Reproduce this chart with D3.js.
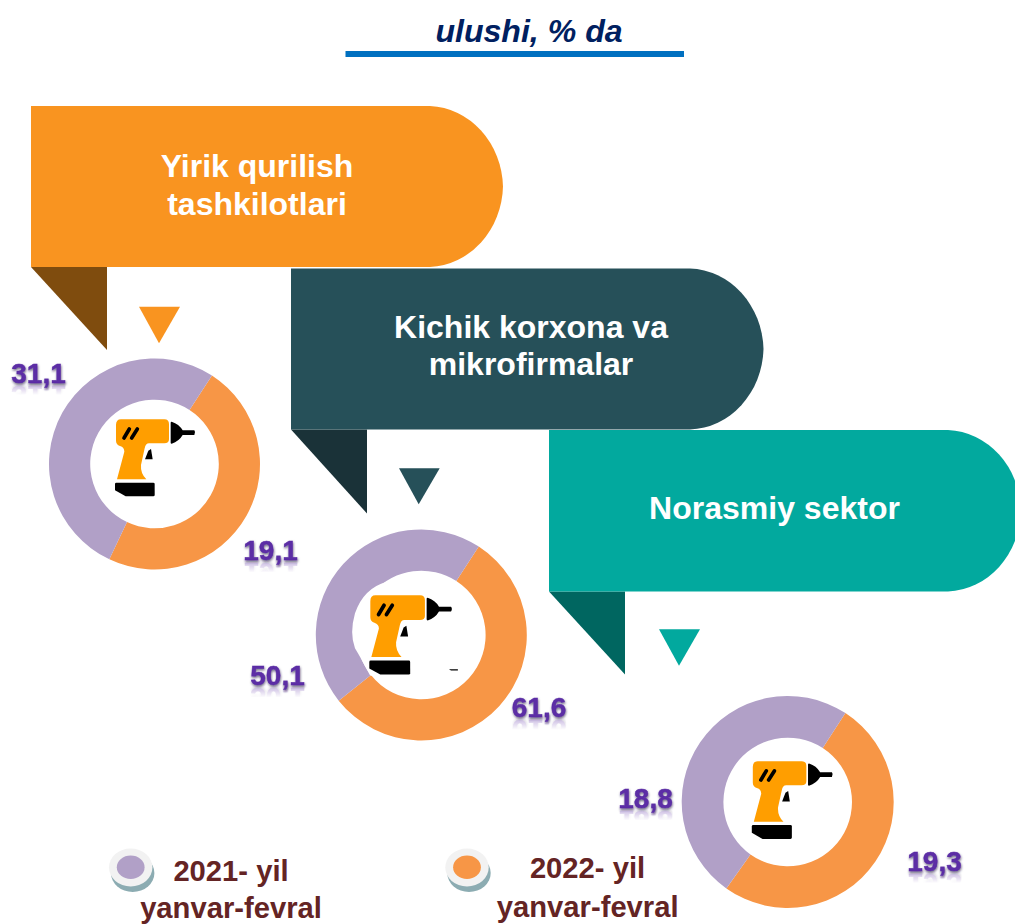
<!DOCTYPE html>
<html>
<head>
<meta charset="utf-8">
<script src="https://cdn.jsdelivr.net/npm/d3@7"></script>
<style>
html,body{margin:0;padding:0;background:#fff;overflow:hidden}
svg{display:block}
text{font-family:"Liberation Sans",Arial,sans-serif;font-weight:bold}
</style>
</head>
<body>
<div id="chart"></div>
<script>
const titleText = "ulushi, % da";
const categories = [["Yirik qurilish","tashkilotlari"],["Kichik korxona va","mikrofirmalar"],["Norasmiy sektor"]];
const seriesNames = [["2021- yil","yanvar-fevral"],["2022- yil","yanvar-fevral"]];
// printed labels
const labels2021 = ["31,1","50,1","18,8"];
const labels2022 = ["19,1","61,6","19,3"];
// slice sizes as drawn in the picture (the first ring is not drawn to its printed 31,1)
const slices2021 = [20.8,50.1,18.8];
const slices2022 = [19.1,61.6,19.3];
const bannerColors = ["#F99420","#265059","#02A99E"];
const foldColors = ["#7F4C0E","#1A3238","#006660"];
const seriesColors = ["#B1A0C7","#F79646"];

const W=1015,H=924;
const svg=d3.select("#chart").append("svg").attr("width",W).attr("height",H).attr("viewBox",`0 0 ${W} ${H}`);
const defs=svg.append("defs");
const sh=defs.append("filter").attr("id","lblShadow").attr("x","-20%").attr("y","-20%").attr("width","140%").attr("height","150%");
sh.append("feDropShadow").attr("dx",0.5).attr("dy",1.5).attr("stdDeviation",0.9).attr("flood-color","#1c1040").attr("flood-opacity",0.65);
const rg=defs.append("linearGradient").attr("id","reflect").attr("x1",0).attr("y1",0).attr("x2",0).attr("y2",1);
rg.append("stop").attr("offset",0.08).attr("stop-color","#fff").attr("stop-opacity",0.4);
rg.append("stop").attr("offset",0.5).attr("stop-color","#fff").attr("stop-opacity",0);
defs.append("mask").attr("id","reflectMask").attr("maskContentUnits","objectBoundingBox")
  .append("rect").attr("width",1).attr("height",1).attr("fill","url(#reflect)");

// title
svg.append("text").attr("x",529).attr("y",41.5).attr("text-anchor","middle").attr("font-size",32.1)
  .attr("font-style","italic").attr("fill","#002060").text(titleText);
svg.append("rect").attr("x",345.5).attr("y",51).attr("width",338.5).attr("height",6).attr("fill","#0070C0");

// banners
const banners=[
 {l:31,t:106,b:267,cx:430,r:503,foldB:350,tri:[139,180,159],triT:306.7,triB:343.3,tx:257,ty:[177,215]},
 {l:291,t:268.5,b:429.5,cx:690,r:763.5,foldB:513.5,tri:[399,439.7,418.7],triT:468.3,triB:504.3,tx:531,ty:[338,375]},
 {l:549,t:430,b:591.5,cx:948,r:1021,foldB:674.5,tri:[659,700,679],triT:629.3,triB:665.7,tx:774.5,ty:[518.7]}
];
const bannerG=svg.append("g");
d3.range(2,-1,-1).forEach(i=>{
  const b=banners[i],m=(b.t+b.b)/2,g=bannerG.append("g");
  g.append("path").attr("fill",foldColors[i])
    .attr("d",`M${b.l},${b.b}H${b.l+76}V${b.foldB}Z`);
  g.append("path").attr("fill",bannerColors[i])
    .attr("d",`M${b.l},${b.t}H${b.cx}A76 83 0 0 1 ${b.r} ${m}A76 83 0 0 1 ${b.cx} ${b.b}H${b.l}Z`);
  g.append("path").attr("fill",bannerColors[i])
    .attr("d",`M${b.tri[0]},${b.triT}H${b.tri[1]}L${b.tri[2]},${b.triB}Z`);
  categories[i].forEach((line,k)=>{
    g.append("text").attr("x",b.tx).attr("y",b.ty[k]).attr("text-anchor","middle")
      .attr("font-size",32).attr("fill","#fff").text(line);
  });
});

// donuts
const rings=[
 {cx:154.5,cy:464,R:105.5,ri:64.3},
 {cx:421.3,cy:635,R:105.5,ri:64.3},
 {cx:787.7,cy:802,R:106,ri:64.3}
];
const start=33*Math.PI/180;
const pie=d3.pie().sort(null).startAngle(start).endAngle(start+2*Math.PI);
const ringG=svg.append("g");
rings.forEach((r,i)=>{
  const arc=d3.arc().innerRadius(r.ri).outerRadius(r.R);
  const data=pie([slices2022[i],slices2021[i]]);
  ringG.append("g").attr("transform",`translate(${r.cx},${r.cy})`)
    .selectAll("path").data(data).join("path")
    .attr("d",arc).attr("fill",(d,j)=>seriesColors[1-j]);
});

// white patch of the pasted icon picture in the middle ring (drawn in 3x crop units)
svg.append("path").attr("transform","translate(240,520) scale(0.3333)").attr("fill","#fff")
  .attr("d","M440,185Q370,205 345,280Q328,340 345,385Q360,410 365,420L390,466L500,500L500,300Z");

// drill icon, in 3x crop units
function drill(tx,ty,s,extra){
  const g=svg.append("g").attr("transform",`translate(${tx},${ty}) scale(${s/3})`);
  g.append("path").attr("fill","#FF9E00").attr("d",
   "M33,45Q33,28 48,28H178Q192,28 192,42V88Q192,100 178,100H132Q122,100 119,115L108,165Q106,190 124,208H36L58,125Q58,112 45,108Q33,104 33,92Z");
  g.append("path").attr("fill","#000").attr("d",
   "M197,38Q197,35 200,35Q222,42 233,61H268Q273,67 268,75H233Q222,94 200,101Q197,101 197,98Z");
  g.append("path").attr("fill","#000").attr("d","M120,148L130,122L138,117L143,148Z");
  g.append("path").attr("fill","#000").attr("d","M30,222Q30,218 34,218H145Q149,218 149,222V255Q149,259 145,259H62L30,241Z");
  g.append("path").attr("stroke","#000").attr("stroke-width",11).attr("stroke-linecap","round").attr("fill","none")
    .attr("d","M57,84L73,57M80,84L97,57");
  if(extra) g.append("path").attr("fill","#000").attr("d","M262,243H288V247H268Z");
}
drill(105,410,1);
drill(359,585.7,1.03,true);
drill(741.7,751.7,1.01);

// value labels
const labelPos=[
 {x:38.5,y:382.5,t:labels2021[0]},
 {x:270.5,y:560,t:labels2022[0]},
 {x:277.5,y:685,t:labels2021[1]},
 {x:539,y:717.3,t:labels2022[1]},
 {x:645.5,y:808,t:labels2021[2]},
 {x:934.5,y:870.7,t:labels2022[2]}
];
const lab=svg.append("g").selectAll("g").data(labelPos).join("g");
lab.append("g").attr("mask","url(#reflectMask)")
  .append("use").attr("href",(d,i)=>`#vlabel${i}`)
  .attr("transform",d=>`translate(0,${2*d.y+3}) scale(1,-1)`);
lab.append("text").attr("id",(d,i)=>`vlabel${i}`).attr("text-anchor","middle").attr("font-size",28)
  .attr("x",d=>d.x).attr("y",d=>d.y).attr("fill","#5B2DA5")
  .attr("stroke","#5B2DA5").attr("stroke-width",0.4)
  .attr("filter","url(#lblShadow)").text(d=>d.t);

// legend
const legend=[
 {cx:130.7,tx:231,tx2:231,y1:880.7,y2:918},
 {cx:467,tx:587.5,tx2:587.7,y1:878.3,y2:916.7}
];
legend.forEach((l,i)=>{
  const g=svg.append("g");
  g.append("ellipse").attr("cx",l.cx+2).attr("cy",873).attr("rx",21.7).attr("ry",19).attr("fill","#8CACB2");
  g.append("ellipse").attr("cx",l.cx).attr("cy",867.5).attr("rx",21.7).attr("ry",19).attr("fill","#F2F2F2");
  g.append("ellipse").attr("cx",l.cx).attr("cy",867.3).attr("rx",13.9).attr("ry",11.7).attr("fill",seriesColors[i]);
  g.append("text").attr("x",l.tx).attr("y",l.y1).attr("text-anchor","middle").attr("font-size",29.2).attr("fill","#642424").text(seriesNames[i][0]);
  g.append("text").attr("x",l.tx2).attr("y",l.y2).attr("text-anchor","middle").attr("font-size",29.2).attr("fill","#642424").text(seriesNames[i][1]);
});
</script>
</body>
</html>
